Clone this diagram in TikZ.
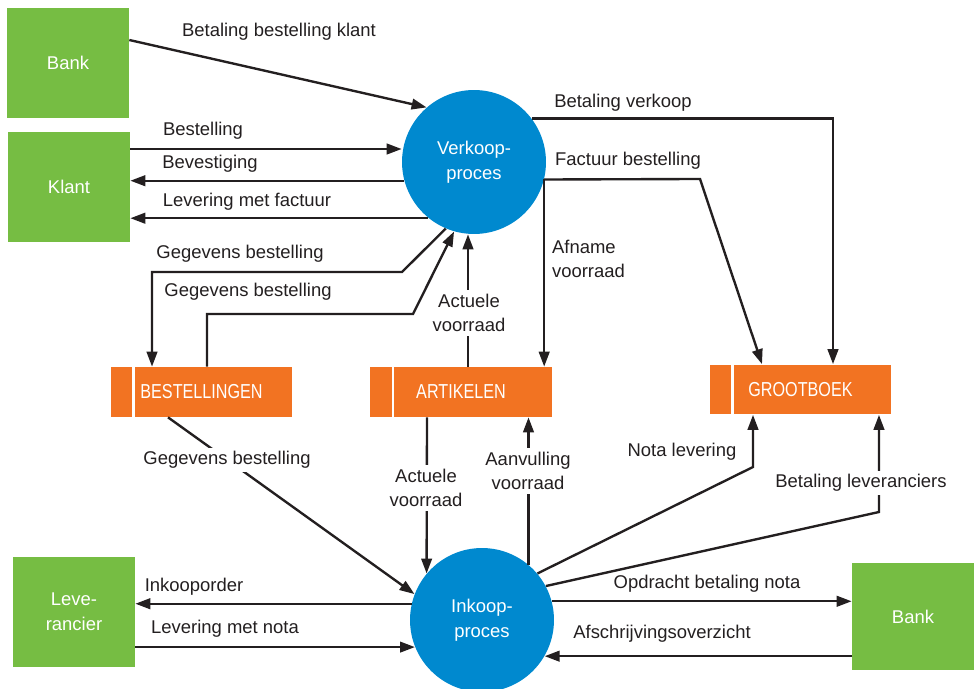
\documentclass[tikz,border=0pt]{standalone}
\usepackage{fontspec}
\setmainfont{Liberation Sans}
\newfontfamily\opslagfont{Liberation Sans}[FakeStretch=0.8]
\usepackage{tikz}
\usetikzlibrary{arrows.meta,calc}
\definecolor{GroenExtern}{RGB}{118,189,67}
\definecolor{BlauwProces}{RGB}{0,137,207}
\definecolor{OranjeOpslag}{RGB}{242,115,34}
\definecolor{TekstGrijs}{RGB}{35,31,32}
\tikzset{
  extern/.style={fill=GroenExtern,text=white,minimum width=2.44cm,minimum height=2.2cm,align=center,
    font=\fontsize{10.5}{14.5}\selectfont},
  proces/.style={circle,fill=BlauwProces,text=white,minimum size=2.88cm,inner sep=0pt,align=center,
    font=\fontsize{10.5}{14.5}\selectfont},
  opslag/.style={fill=OranjeOpslag,text=white,minimum width=3.64cm,minimum height=1cm,inner sep=0pt,
    font=\opslagfont\fontsize{11.5}{12}\selectfont,
    path picture={\draw[white,line width=1.3pt] ([xshift=0.46cm]path picture bounding box.north west)
      -- ([xshift=0.46cm]path picture bounding box.south west);}},
  stroom/.style={-{Triangle[length=8.5pt,width=6pt]},line width=1.35pt,draw=TekstGrijs},
  bijschrift/.style={text=TekstGrijs,inner sep=1pt,align=center,font=\fontsize{10.5}{14}\selectfont},
  bijschriftw/.style={bijschrift,fill=white,inner sep=2pt}
}

\begin{document}
\begin{tikzpicture}[x=0.02cm,y=-0.02cm]
  \useasboundingbox (0,0) rectangle (974,689);
  % externe entiteiten
  \node[extern] (bank1) at (68,63) {Bank};
  \node[extern] (kl) at (69,187) {Klant};
  \node[extern] (lv) at (74,612) {Leve-\\rancier};
  \node[extern,minimum height=2.14cm] (bank2) at (913,616.5) {Bank};
  % processen
  \node[proces] (vp) at (474,162) {Verkoop-\\proces};
  \node[proces] (ip) at (482,620) {Inkoop-\\proces};
  % gegevensopslag
  \node[opslag] (bs) at (201.5,392) {BESTELLINGEN};
  \node[opslag] (ar) at (461,392) {ARTIKELEN};
  \node[opslag] (gb) at (800.5,389.5) {GROOTBOEK};

  % verkoop
  \draw[stroom] ([yshift=0.46cm]bank1.east) -- (vp.131);
  \draw[stroom] ([yshift=0.76cm]kl.east) -- ([yshift=0.76cm]kl.east -| vp.west);
  \draw[stroom] (vp.195) -- (vp.195 -| kl.east);
  \draw[stroom] (vp.231) -- (vp.231 -| kl.east);
  \draw[stroom] (vp.37) -| ([xshift=0.65cm]gb.north);
  \draw[stroom] (vp.-14) -- (700,179) -- ([xshift=-0.77cm]gb.north);
  \draw[stroom] (vp.-14) -- (vp.-14 |- ar.north);
  \draw[stroom] (vp.247) -- (402,272) -| ([xshift=-0.99cm]bs.north);
  \draw[stroom] ([xshift=0.11cm]bs.north) |- (413,314) -- (vp.254);
  \draw[stroom] ([xshift=0.14cm]ar.north) -- ([xshift=0.14cm]ar.north |- vp.south);

  % inkoop
  \draw[stroom] ([xshift=-0.67cm]bs.south) -- (ip.159);
  \draw[stroom] ([xshift=-0.68cm]ar.south) -- (ip.140);
  \draw[stroom] (ip.50) -- (ip.50 |- ar.south);
  \draw[stroom] (ip.40) -- (753,467) -- ([xshift=-0.95cm]gb.south);
  \draw[stroom] (ip.28) -- (879,512) -- ([xshift=1.57cm]gb.south);
  \draw[stroom] (ip.15) -- (ip.15 -| bank2.west);
  \draw[stroom] (ip.-30 -| bank2.west) -- (ip.-30);
  \draw[stroom] (ip.167) -- (ip.167 -| lv.east);
  \draw[stroom] (ip.202 -| lv.east) -- (ip.202);

  % bijschriften
  \node[bijschrift] (tBetKlant) at (279,32) {Betaling bestelling klant};
  \node[bijschrift] (tBest) at (203,131) {Bestelling};
  \node[bijschrift] (tBev) at (210,164) {Bevestiging};
  \node[bijschrift] (tLevFact) at (247,202) {Levering met factuur};
  \node[bijschrift] (tGeg1) at (240,254) {Gegevens bestelling};
  \node[bijschrift] (tGeg2) at (248,292) {Gegevens bestelling};
  \node[bijschrift] (tBetVerk) at (623,103) {Betaling verkoop};
  \node[bijschrift] (tFact) at (628,161) {Factuur bestelling};
  \node[bijschrift,align=left,anchor=west] (tAfname) at (550,259) {Afname\\voorraad};
  \node[bijschriftw] (tAct1) at (469,313) {Actuele\\voorraad};
  \node[bijschriftw] (tGeg3) at (227,460) {Gegevens bestelling};
  \node[bijschriftw] (tAct2) at (426,488) {Actuele\\voorraad};
  \node[bijschriftw] (tAanv) at (528,471) {Aanvulling\\voorraad};
  \node[bijschrift] (tNota) at (682,452) {Nota levering};
  \node[bijschriftw] (tBetLev) at (861,483) {Betaling leveranciers};
  \node[bijschrift] (tInk) at (194,587) {Inkooporder};
  \node[bijschrift] (tLevNota) at (225,629) {Levering met nota};
  \node[bijschrift] (tOpdr) at (707,584) {Opdracht betaling nota};
  \node[bijschrift] (tAfschr) at (662,634) {Afschrijvingsoverzicht};
\end{tikzpicture}
\end{document}
